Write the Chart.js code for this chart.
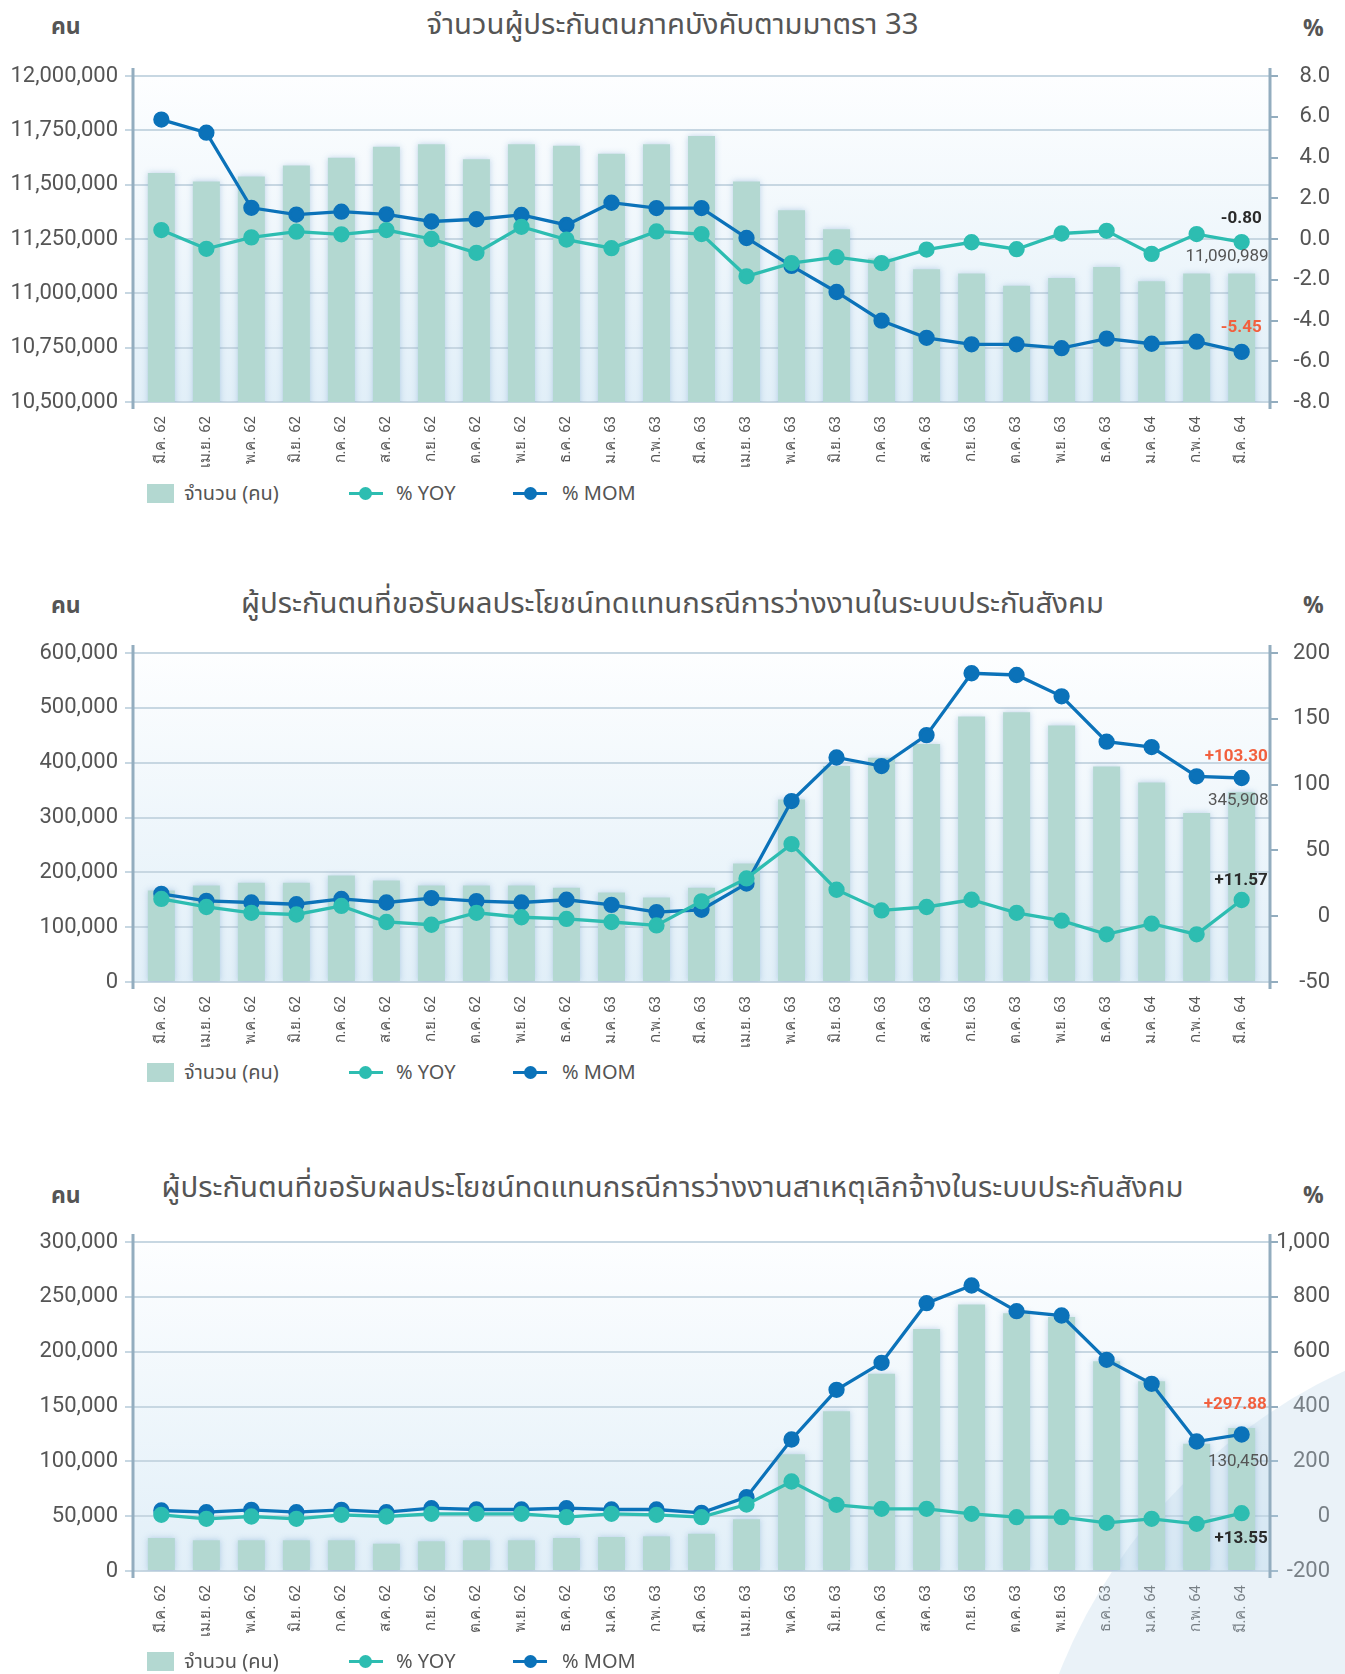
<!DOCTYPE html>
<html>
<head>
<meta charset="utf-8">
<script src="https://cdn.jsdelivr.net/npm/chart.js@4.4.0/dist/chart.umd.min.js"></script>
<style>
  body { margin: 0; width: 1345px; height: 1674px; overflow: hidden; background: #fff; position: relative;
         font-family: "Noto Sans Thai", "Noto Sans", sans-serif; color: #555; }
  canvas { position: absolute; left: 0; }
  .ttl { position: absolute; left: 0; width: 1345px; text-align: center; font-size: 29.3px; line-height: 36px; color: #555; }
  .unit { position: absolute; font-size: 23px; line-height: 30px; font-weight: bold; color: #555; }
  .lg { position: absolute; left: 147px; height: 24px; font-size: 20px; line-height: 24px; color: #555; }
  .lg span { position: absolute; top: 0; white-space: nowrap; }
  .sq { position: absolute; left: 0; top: 2px; width: 27px; height: 19px; background: #b3d8d1; }
  .ln { position: absolute; top: 10px; width: 34px; height: 3px; }
  .dt { position: absolute; top: 5px; width: 13px; height: 13px; border-radius: 50%; }
</style>
</head>
<body>

<div class="ttl" style="top:7px">จำนวนผู้ประกันตนภาคบังคับตามมาตรา 33</div>
<div class="unit" style="left:51px;top:12px">คน</div>
<div class="unit" style="left:1303px;top:14px">%</div>
<canvas id="chart1" width="1345" height="470" style="top:0"></canvas>
<div class="lg" style="top:482px"></div>

<div class="ttl" style="top:586px">ผู้ประกันตนที่ขอรับผลประโยชน์ทดแทนกรณีการว่างงานในระบบประกันสังคม</div>
<div class="unit" style="left:51px;top:591px">คน</div>
<div class="unit" style="left:1303px;top:591px">%</div>
<canvas id="chart2" width="1345" height="490" style="top:560px"></canvas>
<div class="lg" style="top:1061px"></div>

<div class="ttl" style="top:1170px">ผู้ประกันตนที่ขอรับผลประโยชน์ทดแทนกรณีการว่างงานสาเหตุเลิกจ้างในระบบประกันสังคม</div>
<div class="unit" style="left:51px;top:1181px">คน</div>
<div class="unit" style="left:1303px;top:1181px">%</div>
<canvas id="chart3" width="1345" height="524" style="top:1150px"></canvas>
<div class="lg" style="top:1650px"></div>

<script>
var months = ['มี.ค. 62', 'เม.ย. 62', 'พ.ค. 62', 'มิ.ย. 62', 'ก.ค. 62', 'ส.ค. 62', 'ก.ย. 62', 'ต.ค. 62',
              'พ.ย. 62', 'ธ.ค. 62', 'ม.ค. 63', 'ก.พ. 63', 'มี.ค. 63', 'เม.ย. 63', 'พ.ค. 63', 'มิ.ย. 63',
              'ก.ค. 63', 'ส.ค. 63', 'ก.ย. 63', 'ต.ค. 63', 'พ.ย. 63', 'ธ.ค. 63', 'ม.ค. 64', 'ก.พ. 64', 'มี.ค. 64'];

var legendNames = ['จำนวน (คน)', '% YOY', '% MOM'];

// chart 1 - ผู้ประกันตนมาตรา 33
var count1 = [11554000, 11515000, 11538000, 11588000, 11624000, 11674000, 11686000, 11617000, 11686000,
              11679000, 11642000, 11686000, 11724000, 11515000, 11382000, 11295000, 11160000, 11111000,
              11091000, 11035000, 11071000, 11121000, 11056000, 11091000, 11090989];
var yoy1 = [0.44, -0.48, 0.08, 0.36, 0.23, 0.44, 0.0, -0.68, 0.60, -0.03, -0.45, 0.37, 0.24, -1.83, -1.18,
            -0.89, -1.18, -0.52, -0.16, -0.50, 0.27, 0.40, -0.73, 0.24, -0.15];
var mom1 = [5.86, 5.22, 1.53, 1.20, 1.34, 1.21, 0.86, 0.97, 1.18, 0.69, 1.78, 1.52, 1.52, 0.05, -1.32,
            -2.60, -4.01, -4.85, -5.17, -5.17, -5.36, -4.89, -5.14, -5.04, -5.54];
var notes1 = ['-0.80', '11,090,989', '-5.45'];

// chart 2 - ขอรับผลประโยชน์กรณีว่างงาน
var count2 = [167000, 176000, 181000, 181000, 194000, 185000, 176000, 176000, 176000, 172000, 163000, 154000,
              172000, 216000, 333000, 394000, 409000, 434000, 484000, 492000, 468000, 393000, 364000, 308000, 345908];
var yoy2 = [13.1, 7.0, 2.6, 1.3, 7.8, -4.4, -6.5, 2.6, -0.8, -2.1, -4.4, -7.0, 11.3, 28.7, 54.8, 20.1, 4.4,
            7.0, 12.5, 2.6, -3.4, -13.8, -5.7, -13.8, 12.3];
var mom2 = [17.0, 11.7, 10.4, 9.1, 13.1, 10.4, 13.8, 11.5, 10.4, 12.5, 8.6, 3.1, 4.9, 24.8, 87.5, 120.6,
            114.1, 137.6, 184.6, 183.3, 167.1, 132.6, 128.5, 106.3, 105.0];
var notes2 = ['+103.30', '345,908', '+11.57'];

// chart 3 - ว่างงานสาเหตุเลิกจ้าง
var count3 = [30100, 28000, 28000, 28000, 28000, 24900, 27100, 28000, 28000, 30100, 31000, 31600, 34000,
              47100, 106400, 145600, 179900, 220700, 242900, 235000, 231600, 191200, 173000, 116100, 130450];
var yoy3 = [4.9, -9.7, -1.2, -9.7, 4.9, -1.2, 8.5, 8.5, 8.5, -3.6, 8.5, 4.9, -3.6, 42.6, 126.4, 41.3, 26.7,
            26.7, 8.5, -3.6, -3.6, -24.3, -9.7, -28.0, 10.9];
var mom3 = [20.7, 14.6, 23.1, 14.6, 23.1, 14.6, 29.2, 24.3, 24.3, 29.2, 24.3, 24.3, 12.2, 69.3, 279.6, 460.8,
            559.3, 776.9, 841.3, 747.7, 731.9, 570.2, 482.7, 272.3, 297.9];
var notes3 = ['+297.88', '130,450', '+13.55'];

var barColor = '#b3d8d1';
var yoyColor = '#2dbdb1';
var momColor = '#0b72b9';
var gridColor = '#c7d7e2';
var axisColor = '#93adbf';
var red = '#f2603e';
var dark = '#2a2a2a';

Chart.defaults.font.family = '"Roboto", sans-serif';
Chart.defaults.color = '#555';

var decoPlugin = {
  id: 'deco',
  beforeDraw: function(chart) {
    var a = chart.chartArea;
    var ctx = chart.ctx;
    var g = ctx.createLinearGradient(0, a.top, 0, a.bottom);
    g.addColorStop(0, '#fdfeff');
    g.addColorStop(1, '#e1eff8');
    ctx.save();
    ctx.fillStyle = g;
    ctx.fillRect(a.left, a.top, a.right - a.left, a.bottom - a.top);
    ctx.restore();
  },
  beforeDatasetsDraw: function(chart, args, opts) {
    if (!opts.circle) return;
    var ctx = chart.ctx;
    ctx.save();
    ctx.fillStyle = 'rgba(190,215,235,0.33)';
    ctx.beginPath();
    ctx.arc(opts.circle[0], opts.circle[1], opts.circle[2], 0, Math.PI * 2);
    ctx.fill();
    ctx.restore();
  },
  beforeDatasetDraw: function(chart, args) {
    if (args.meta.type !== 'bar') return;
    chart.ctx.save();
    chart.ctx.shadowColor = 'rgba(80,135,190,0.35)';
    chart.ctx.shadowBlur = 6;
  },
  afterDatasetDraw: function(chart, args) {
    if (args.meta.type !== 'bar') return;
    chart.ctx.restore();
  },
  afterDraw: function(chart, args, opts) {
    var a = chart.chartArea;
    var ctx = chart.ctx;
    ctx.save();
    ctx.strokeStyle = axisColor;
    ctx.lineWidth = 3;
    ctx.beginPath();
    ctx.moveTo(a.left, a.top - 8); ctx.lineTo(a.left, a.bottom + 7);
    ctx.moveTo(a.right, a.top - 8); ctx.lineTo(a.right, a.bottom + 7);
    ctx.stroke();

    // labels on the last month
    var notes = opts.notes || [];
    for (var i = 0; i < notes.length; i++) {
      var n = notes[i];
      var meta = chart.getDatasetMeta(n.ds);
      var el = meta.data[meta.data.length - 1];
      ctx.font = (n.bold ? 'bold ' : '') + '17px "Roboto", sans-serif';
      ctx.fillStyle = n.color;
      ctx.textAlign = 'right';
      ctx.textBaseline = 'middle';
      ctx.fillText(n.text, el.x + n.dx, el.y + n.dy);
    }
    ctx.restore();
  }
};

function makeChart(id, cnt, yoy, mom, left, right, opts) {
  var ctx = document.getElementById(id).getContext('2d');
  return new Chart(ctx, {
    type: 'bar',
    plugins: [decoPlugin],
    data: {
      labels: months,
      datasets: [{
        type: 'bar',
        label: legendNames[0],
        data: cnt,
        yAxisID: 'y',
        backgroundColor: barColor,
        barPercentage: 0.6,
        categoryPercentage: 1,
        order: 2
      }, {
        type: 'line',
        label: legendNames[1],
        data: yoy,
        yAxisID: 'y1',
        borderColor: yoyColor,
        backgroundColor: yoyColor,
        borderWidth: 3.3,
        pointRadius: 6.5,
        pointHoverRadius: 6.5,
        tension: 0,
        order: 0
      }, {
        type: 'line',
        label: legendNames[2],
        data: mom,
        yAxisID: 'y1',
        borderColor: momColor,
        backgroundColor: momColor,
        borderWidth: 3.3,
        pointRadius: 6.5,
        pointHoverRadius: 6.5,
        tension: 0,
        order: 1
      }]
    },
    options: {
      responsive: false,
      animation: false,
      // right padding keeps the right-hand numbers off the page edge
      layout: { padding: { top: opts.padTop, bottom: opts.padBottom, left: 0, right: 15 } },
      plugins: {
        legend: { display: false },
        tooltip: { enabled: false },
        deco: { notes: opts.notes, circle: opts.circle }
      },
      scales: {
        x: {
          offset: true,
          grid: { display: false },
          border: { display: false },
          ticks: { autoSkip: false, maxRotation: 90, minRotation: 90, padding: 6,
                   font: { size: 15 }, color: '#555' },
          afterBuildTicks: function(s) {
            // a bit of room between the axes and the first / last bar
            s._startValue -= 0.13;
            s._valueRange += 0.26;
          },
          afterFit: function(s) { s.height = 68; }
        },
        y: {
          position: 'left',
          min: left[0], max: left[1],
          ticks: { stepSize: left[2], padding: 7, font: { size: 22 }, color: '#555',
                   callback: function(v) { return v.toLocaleString('en-US'); } },
          grid: { color: gridColor, lineWidth: 2, tickLength: 8 },
          border: { display: false },
          afterFit: function(s) { s.width = 133; }
        },
        y1: {
          position: 'right',
          min: right[0], max: right[1],
          ticks: { stepSize: right[2], crossAlign: 'far', font: { size: 22 }, color: '#555',
                   callback: function(v) { return right[3] ? v.toFixed(right[3]) : v.toLocaleString('en-US'); } },
          grid: { drawOnChartArea: false, color: axisColor, lineWidth: 2, tickLength: 8 },
          border: { display: false },
          afterFit: function(s) { s.width = 60; }
        }
      }
    }
  });
}

function makeLegend(box) {
  box.innerHTML =
    '<div class="sq"></div><span style="left:37px">' + legendNames[0] + '</span>' +
    '<div class="ln" style="left:202px;background:' + yoyColor + '"></div>' +
    '<div class="dt" style="left:212px;background:' + yoyColor + '"></div>' +
    '<span style="left:249px">' + legendNames[1] + '</span>' +
    '<div class="ln" style="left:366px;background:' + momColor + '"></div>' +
    '<div class="dt" style="left:377px;background:' + momColor + '"></div>' +
    '<span style="left:415px">' + legendNames[2] + '</span>';
}

function init() {
  makeChart('chart1', count1, yoy1, mom1, [10500000, 12000000, 250000], [-8, 8, 2, 1], {
    padTop: 76, padBottom: 0,
    notes: [
      { text: notes1[0], ds: 1, dx: 20, dy: -23, color: dark, bold: true },
      { text: notes1[1], ds: 0, dx: 27, dy: -17, color: '#555', bold: false },
      { text: notes1[2], ds: 2, dx: 20, dy: -24, color: red, bold: true }
    ]
  });
  makeChart('chart2', count2, yoy2, mom2, [0, 600000, 100000], [-50, 200, 50, 0], {
    padTop: 93, padBottom: 0,
    notes: [
      { text: notes2[0], ds: 2, dx: 26, dy: -21, color: red, bold: true },
      { text: notes2[1], ds: 0, dx: 27, dy: 8, color: '#555', bold: false },
      { text: notes2[2], ds: 1, dx: 26, dy: -19, color: dark, bold: true }
    ]
  });
  makeChart('chart3', count3, yoy3, mom3, [0, 300000, 50000], [-200, 1000, 200, 0], {
    padTop: 92, padBottom: 35,
    circle: [1580, 729, 560],
    notes: [
      { text: notes3[0], ds: 2, dx: 25, dy: -30, color: red, bold: true },
      { text: notes3[1], ds: 0, dx: 27, dy: 34, color: '#555', bold: false },
      { text: notes3[2], ds: 1, dx: 26, dy: 26, color: dark, bold: true }
    ]
  });

  var boxes = document.querySelectorAll('.lg');
  for (var i = 0; i < boxes.length; i++) {
    makeLegend(boxes[i]);
  }
}

init();
</script>
</body>
</html>
